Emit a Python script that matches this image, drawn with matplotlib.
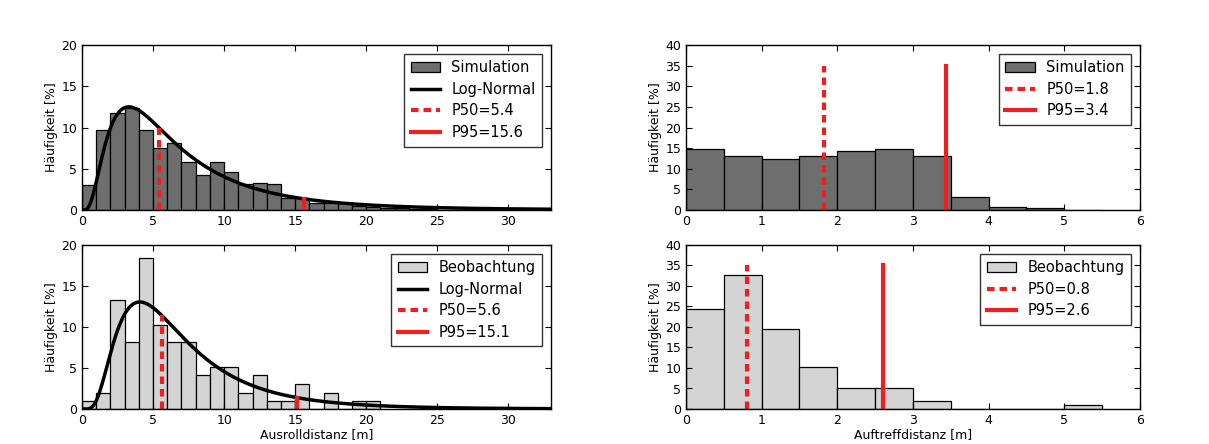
import matplotlib
matplotlib.use('Agg')
import matplotlib.pyplot as plt
import numpy as np

# Ausrolldistanz histograms, bin width 1 m, values in %
roll_sim = [3.0, 9.7, 11.7, 12.4, 9.7, 7.5, 8.1, 5.8, 4.3, 5.8, 4.6, 3.2, 3.3, 3.2,
            1.4, 1.4, 0.9, 0.8, 0.8, 0.5, 0.4, 0.3, 0.25, 0.15, 0.1, 0.05, 0.05]
roll_obs = [1.0, 2.0, 13.3, 8.2, 18.4, 10.2, 8.2, 8.2, 4.1, 5.1, 5.1, 2.0, 4.1, 1.0,
            1.0, 3.1, 0.0, 2.0, 0.0, 1.0, 1.0]

# Auftreffdistanz histograms, bin width 0.5 m, values in %
hit_sim = [14.9, 13.0, 12.4, 13.2, 14.3, 14.7, 13.0, 3.2, 0.8, 0.4, 0.05]
hit_obs = [24.5, 32.7, 19.4, 10.2, 5.1, 5.1, 2.0, 0.0, 0.0, 0.0, 1.0]

# Log-normal fit parameters (mu, sigma)
lognorm_sim = (1.737, 0.737)
lognorm_obs = (1.788, 0.62)

# percentiles
roll_p_sim = (5.4, 15.6)
roll_p_obs = (5.6, 15.1)
hit_p_sim = (1.83, 3.44)
hit_p_obs = (0.8, 2.6)

dark = '0.43'
light = '0.83'
red = '#f21d1d'
dash = (1.8, 1.2)


def lognorm_pdf(x, mu, s):
    return 100.0 / (x * s * np.sqrt(2 * np.pi)) * np.exp(-(np.log(x) - mu)**2 / (2 * s**2))


def style_axis(ax, ymax, xmax, xticks):
    ax.set_xlim(0, xmax)
    ax.set_ylim(0, ymax)
    ax.set_yticks(np.arange(0, ymax + 1, 5))
    ax.set_xticks(xticks)
    ax.tick_params(direction='in', top=True, right=True, labelsize=9, length=4)
    ax.set_ylabel(u'Häufigkeit [%]', fontsize=9, labelpad=2)
    for s in ax.spines.values():
        s.set_linewidth(1.0)


def plot_roll(ax, vals, color, label, params, pcts):
    edges = np.arange(len(vals) + 1)
    ax.bar(edges[:-1], vals, width=1.0, align='edge', color=color,
           edgecolor='black', linewidth=0.9, label=label)
    x = np.linspace(0.01, 33, 600)
    ax.plot(x, lognorm_pdf(x, *params), 'k-', lw=2.5, label='Log-Normal')
    p50, p95 = pcts
    ax.plot([p50, p50], [0, lognorm_pdf(p50, *params)], '--', color=red, lw=3,
            dashes=dash, label='P50=%.1f' % p50)
    ax.plot([p95, p95], [0, lognorm_pdf(p95, *params)], '-', color=red, lw=3,
            label='P95=%.1f' % p95)
    style_axis(ax, 20, 33, np.arange(0, 31, 5))


def plot_hit(ax, vals, color, label, pcts):
    edges = np.arange(len(vals) + 1) * 0.5
    ax.bar(edges[:-1], vals, width=0.5, align='edge', color=color,
           edgecolor='black', linewidth=0.9, label=label)
    p50, p95 = pcts
    ax.plot([p50, p50], [0, 35], '--', color=red, lw=3, dashes=dash,
            label='P50=%.1f' % p50)
    ax.plot([p95, p95], [0, 35], '-', color=red, lw=3, label='P95=%.1f' % p95)
    style_axis(ax, 40, 6, np.arange(0, 7, 1))


def legend(ax):
    handles, labels = ax.get_legend_handles_labels()
    # histogram first, then lines
    order = [len(handles) - 1] + list(range(len(handles) - 1))
    leg = ax.legend([handles[i] for i in order], [labels[i] for i in order],
                    loc='upper right', fontsize=10.5, fancybox=False,
                    handlelength=2.0, borderaxespad=0.6, labelspacing=0.45,
                    handletextpad=0.8, borderpad=0.45)
    leg.get_frame().set_edgecolor('black')
    leg.get_frame().set_linewidth(1.0)


fig = plt.figure(figsize=(12.09, 4.44), dpi=100)
ax1 = fig.add_axes([0.0678, 0.527, 0.388, 0.3716])
ax2 = fig.add_axes([0.0678, 0.0788, 0.388, 0.3696])
ax3 = fig.add_axes([0.5674, 0.527, 0.3755, 0.3716])
ax4 = fig.add_axes([0.5674, 0.0788, 0.3755, 0.3696])

plot_roll(ax1, roll_sim, dark, 'Simulation', lognorm_sim, roll_p_sim)
plot_roll(ax2, roll_obs, light, 'Beobachtung', lognorm_obs, roll_p_obs)
plot_hit(ax3, hit_sim, dark, 'Simulation', hit_p_sim)
plot_hit(ax4, hit_obs, light, 'Beobachtung', hit_p_obs)

ax2.set_xlabel('Ausrolldistanz [m]', fontsize=9, labelpad=1)
ax4.set_xlabel('Auftreffdistanz [m]', fontsize=9, labelpad=1)

for ax in (ax1, ax2, ax3, ax4):
    legend(ax)

fig.savefig('out.png', dpi=100)
